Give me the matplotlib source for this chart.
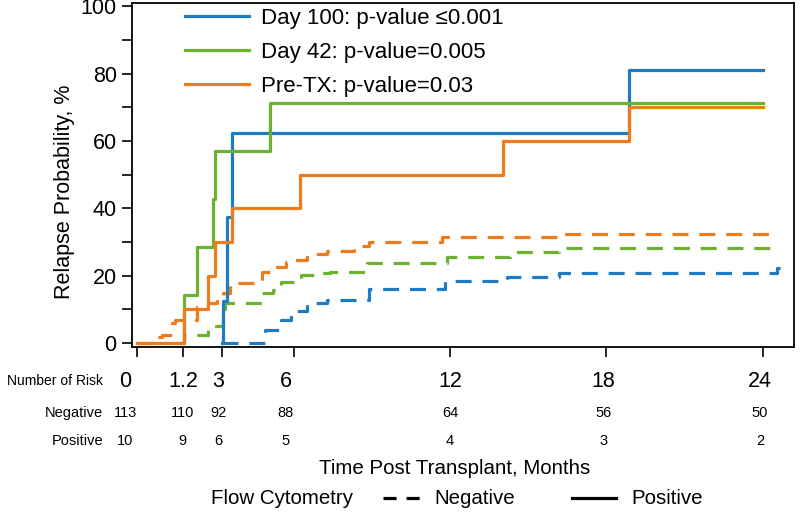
import matplotlib
matplotlib.use("Agg")
import matplotlib.pyplot as plt
from matplotlib.lines import Line2D

plt.rcParams['font.family'] = ['Liberation Sans', 'DejaVu Sans']

# colours per landmark
BLUE = '#1f7bc2'
GREEN = '#6cb12f'
ORANGE = '#ef7c1c'

# positive flow cytometry (solid)
d100_pos_t = [3.26, 3.3, 3.45, 3.65, 18.85, 24.0]
d100_pos_y = [0, 12.5, 37.5, 62.5, 81.25, 81.25]
d42_pos_t = [1.76, 1.8, 2.3, 2.9, 3.0, 5.1, 24.0]
d42_pos_y = [0, 14.3, 28.6, 42.9, 57.1, 71.4, 71.4]
pre_pos_t = [0, 1.8, 2.7, 3.0, 3.65, 6.25, 14.05, 18.85, 24.0]
pre_pos_y = [0, 10, 20, 30, 40, 50, 60, 70, 70]

# negative flow cytometry (dashed)
d100_neg_t = [3.26, 4.6, 4.9, 5.5, 5.9, 6.5, 7.3, 8.9, 11.8, 14.2, 16.2, 24.55, 24.65]
d100_neg_y = [0, 0, 3.9, 6.9, 9.5, 11.9, 12.8, 16.1, 18.5, 19.7, 20.9, 22.4, 22.4]
d42_neg_t = [1.55, 1.8, 2.7, 3.3, 3.35, 4.8, 5.2, 5.5, 6.0, 6.3, 6.9, 7.4, 8.8, 11.9, 14.3, 16.2, 24.5]
d42_neg_y = [0, 2.4, 5.0, 10, 11.9, 14.9, 15.8, 18.2, 18.8, 20.3, 20.9, 21.2, 23.9, 25.4, 26.9, 28.1, 28.1]
pre_neg_t = [0, 0.77, 0.95, 1.35, 1.45, 2.3, 2.7, 3.05, 3.3, 3.55, 4.7, 4.8, 5.2, 5.7, 5.8,
             6.5, 7.3, 8.3, 8.9, 11.7, 16.2, 24.5]
pre_neg_y = [0, 1.8, 2.4, 6.0, 6.9, 10.7, 11.9, 13.7, 14.9, 17.9, 18.2, 21.2, 22.7, 24.2, 24.8,
             26.3, 27.2, 28.7, 29.9, 31.6, 32.5, 32.5]

legend_labels = ["Day 100: p-value \u22640.001", "Day 42: p-value=0.005", "Pre-TX: p-value=0.03"]

# number at risk table
risk_times = ["0", "1.2", "3", "6", "12", "18", "24"]
risk_neg = [113, 110, 92, 88, 64, 56, 50]
risk_pos = [10, 9, 6, 5, 4, 3, 2]
tick_pos = [0, 1.76, 3.26, 6, 12, 18, 24]
col_x = [-0.45, 1.75, 3.1, 5.7, 12, 17.9, 23.9]

fig = plt.figure(figsize=(8, 5.16), dpi=100)
ax = fig.add_axes([0.165, 0.3275, 0.8275, 0.6665])

lw = 2.3
dash = (5, 3.4)
for t, y, c in [(d100_neg_t, d100_neg_y, BLUE), (d42_neg_t, d42_neg_y, GREEN), (pre_neg_t, pre_neg_y, ORANGE)]:
    ax.plot(t, y, drawstyle='steps-post', color=c, lw=lw, dashes=dash)
handles = []
for t, y, c, lab in [(d100_pos_t, d100_pos_y, BLUE, legend_labels[0]),
                     (d42_pos_t, d42_pos_y, GREEN, legend_labels[1]),
                     (pre_pos_t, pre_pos_y, ORANGE, legend_labels[2])]:
    h, = ax.plot(t, y, drawstyle='steps-post', color=c, lw=lw, label=lab)
    handles.append(h)

ax.set_xlim(-0.2, 25.2)
ax.set_ylim(-1.2, 101)
ax.set_xticks(tick_pos)
ax.set_xticklabels([])
ax.set_yticks(range(0, 101, 20))
ax.set_yticks(range(10, 100, 20), minor=True)
ax.tick_params(axis='both', which='both', direction='out', length=7, width=1.2, labelsize=15.5)
ax.tick_params(axis='y', pad=4)
for s in ax.spines.values():
    s.set_linewidth(1.3)
ax.set_ylabel("Relapse Probability, %", fontsize=15.5)
ax.yaxis.set_label_coords(-0.086, 0.45)

ax.legend(handles=handles, loc='upper left', bbox_to_anchor=(0.08, 0.985), frameon=False,
          fontsize=16, handlelength=2.9, handletextpad=0.5, labelspacing=0.58, borderpad=0,
          borderaxespad=0)

# number at risk table
tr = ax.get_xaxis_transform()
fig.text(103 / 800, 1 - 381 / 516, "Number of Risk", ha='right', va='center', fontsize=10)
fig.text(103 / 800, 1 - 413 / 516, "Negative", ha='right', va='center', fontsize=10.5)
fig.text(103 / 800, 1 - 441 / 516, "Positive", ha='right', va='center', fontsize=10.5)
for x, lab, n, p in zip(col_x, risk_times, risk_neg, risk_pos):
    ax.text(x, -(381 - 347) / 344, lab, transform=tr, ha='center', va='center', fontsize=15.5)
    ax.text(x, -(413 - 347) / 344, str(n), transform=tr, ha='center', va='center', fontsize=10.5)
    ax.text(x, -(441 - 347) / 344, str(p), transform=tr, ha='center', va='center', fontsize=10.5)

fig.text(455 / 800, 1 - 469 / 516, "Time Post Transplant, Months", ha='center', va='center', fontsize=14.8)

# line-style key
ky = 1 - 498 / 516
fig.text(211 / 800, ky, "Flow Cytometry", ha='left', va='center', fontsize=14.8)
fig.add_artist(Line2D([383 / 800, 420 / 800], [ky, ky], color='black', lw=lw, dashes=(4.1, 3.1)))
fig.text(434 / 800, ky, "Negative", ha='left', va='center', fontsize=14.8)
fig.add_artist(Line2D([572 / 800, 616 / 800], [ky, ky], color='black', lw=lw))
fig.text(631 / 800, ky, "Positive", ha='left', va='center', fontsize=14.8)

fig.savefig("out.png", dpi=100)
